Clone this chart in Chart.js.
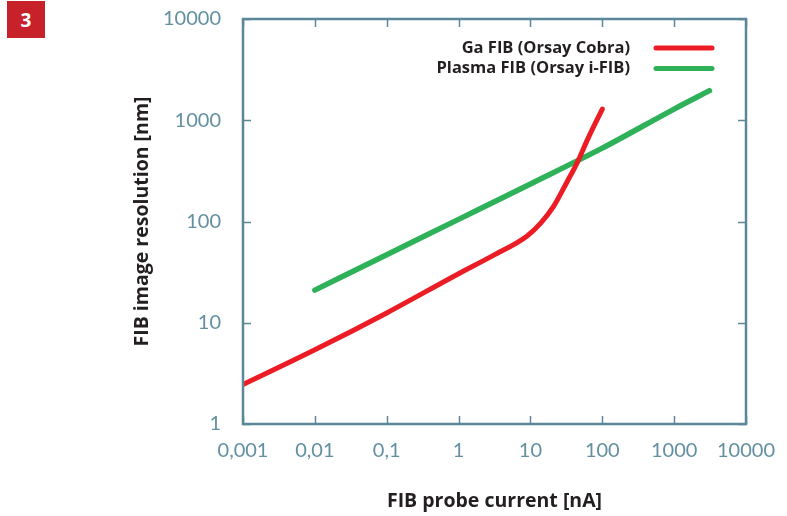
<!DOCTYPE html>
<html>
<head>
<meta charset="utf-8">
<script src="https://cdn.jsdelivr.net/npm/chart.js@4.4.1/dist/chart.umd.min.js"></script>
<style>
  html, body { margin: 0; padding: 0; background: #fff; }
  #wrap { position: relative; width: 787px; height: 516px; }
  #badge {
    position: absolute; left: 7px; top: 1px; width: 38px; height: 37px;
    background: #c7222a; color: #fff; font: bold 19px "Open Sans", sans-serif;
    display: flex; align-items: center; justify-content: center;
  }
</style>
</head>
<body>
<div id="wrap">
  <canvas id="chart" width="787" height="516"></canvas>
  <div id="badge">3</div>
</div>
<script>
// data
const xTickValues = [0.001, 0.01, 0.1, 1, 10, 100, 1000, 10000];
const xTickLabels = ['0,001', '0,01', '0,1', '1', '10', '100', '1000', '10000'];
const yTickValues = [1, 10, 100, 1000, 10000];
const yTickLabels = ['1', '10', '100', '1000', '10000'];

const gaCurrent = [0.001, 0.01, 0.1, 1, 3, 9, 14, 21, 32, 45, 62, 100];
const gaResolution = [2.45, 5.4, 12.5, 30.5, 46, 72, 97, 141, 243, 384, 640, 1290];

const plasmaCurrent = [0.01, 0.1, 1, 10, 100, 1000, 3100];
const plasmaResolution = [21, 47, 105, 235, 530, 1290, 1960];

const frameColor = '#5b8899';
const tickColor = '#6390a1';

const toPoints = (xs, ys) => xs.map((x, i) => ({ x: x, y: ys[i] }));

// keep the plot box where the figure has it
const fixPadding = s => {
  s.paddingTop = 0; s.paddingBottom = 0;
  s.paddingLeft = 0; s.paddingRight = 0;
};

// frame, inward ticks and legend
const framePlugin = {
  id: 'frame',
  afterDraw(chart) {
    const { ctx, chartArea: a, scales } = chart;
    ctx.save();
    ctx.strokeStyle = frameColor;
    ctx.lineWidth = 1.5;
    xTickValues.forEach(v => {
      const px = Math.round(scales.x.getPixelForValue(v)) + 0.5;
      ctx.beginPath();
      ctx.moveTo(px, a.bottom); ctx.lineTo(px, a.bottom - 8);
      ctx.moveTo(px, a.top); ctx.lineTo(px, a.top + 8);
      ctx.stroke();
    });
    yTickValues.forEach(v => {
      const py = Math.round(scales.y.getPixelForValue(v)) + 0.5;
      ctx.beginPath();
      ctx.moveTo(a.left, py); ctx.lineTo(a.left + 8, py);
      ctx.moveTo(a.right, py); ctx.lineTo(a.right - 8, py);
      ctx.stroke();
    });
    ctx.lineWidth = 2.5;
    ctx.strokeRect(a.left, a.top, a.right - a.left, a.bottom - a.top);

    // legend
    ctx.font = 'bold 16.5px "Open Sans", sans-serif';
    ctx.textAlign = 'right';
    ctx.textBaseline = 'middle';
    chart.data.datasets.forEach((ds, i) => {
      const y = 48 + i * 20.5;
      ctx.fillStyle = '#231f20';
      ctx.fillText(ds.label, 630, y);
      ctx.strokeStyle = ds.borderColor;
      ctx.lineWidth = 5;
      ctx.lineCap = 'round';
      ctx.beginPath();
      ctx.moveTo(656, y); ctx.lineTo(712, y);
      ctx.stroke();
    });
    ctx.restore();
  }
};

new Chart(document.getElementById('chart'), {
  type: 'line',
  data: {
    datasets: [{
      label: 'Ga FIB (Orsay Cobra)',
      data: toPoints(gaCurrent, gaResolution),
      borderColor: '#ec1c24',
      borderWidth: 5,
      borderCapStyle: 'round',
      pointRadius: 0,
      cubicInterpolationMode: 'monotone'
    }, {
      label: 'Plasma FIB (Orsay i-FIB)',
      data: toPoints(plasmaCurrent, plasmaResolution),
      borderColor: '#2fb15a',
      borderWidth: 5.5,
      borderCapStyle: 'round',
      pointRadius: 0,
      cubicInterpolationMode: 'monotone'
    }]
  },
  options: {
    responsive: false,
    animation: false,
    layout: { padding: { top: 19, right: 41, left: 0, bottom: 0 } },
    plugins: {
      legend: { display: false },
      tooltip: { enabled: false }
    },
    scales: {
      x: {
        type: 'logarithmic',
        min: 0.001,
        max: 10000,
        afterBuildTicks: s => { s.ticks = xTickValues.map(v => ({ value: v })); },
        afterFit: s => { s.height = 92; fixPadding(s); },
        grid: { display: false, drawTicks: false },
        border: { display: false },
        ticks: {
          autoSkip: false,
          maxRotation: 0,
          padding: 15,
          color: tickColor,
          font: { family: 'Lato', size: 20 },
          callback: (v, i) => xTickLabels[i]
        },
        title: {
          display: true,
          text: 'FIB probe current [nA]',
          color: '#231f20',
          font: { family: 'Open Sans', size: 19.5, weight: 'bold' },
          padding: { top: 0, bottom: 3 }
        }
      },
      y: {
        type: 'logarithmic',
        min: 1,
        max: 10000,
        afterBuildTicks: s => { s.ticks = yTickValues.map(v => ({ value: v })); },
        afterFit: s => { s.width = 243; fixPadding(s); },
        grid: { display: false, drawTicks: false },
        border: { display: false },
        ticks: {
          autoSkip: false,
          padding: 22,
          color: tickColor,
          font: { family: 'Lato', size: 20 },
          callback: (v, i) => yTickLabels[i]
        },
        title: {
          display: true,
          text: 'FIB image resolution [nm]',
          color: '#231f20',
          font: { family: 'Open Sans', size: 19.5, weight: 'bold' },
          padding: { top: 131, bottom: 0 }
        }
      }
    }
  },
  plugins: [framePlugin]
});
</script>
</body>
</html>
